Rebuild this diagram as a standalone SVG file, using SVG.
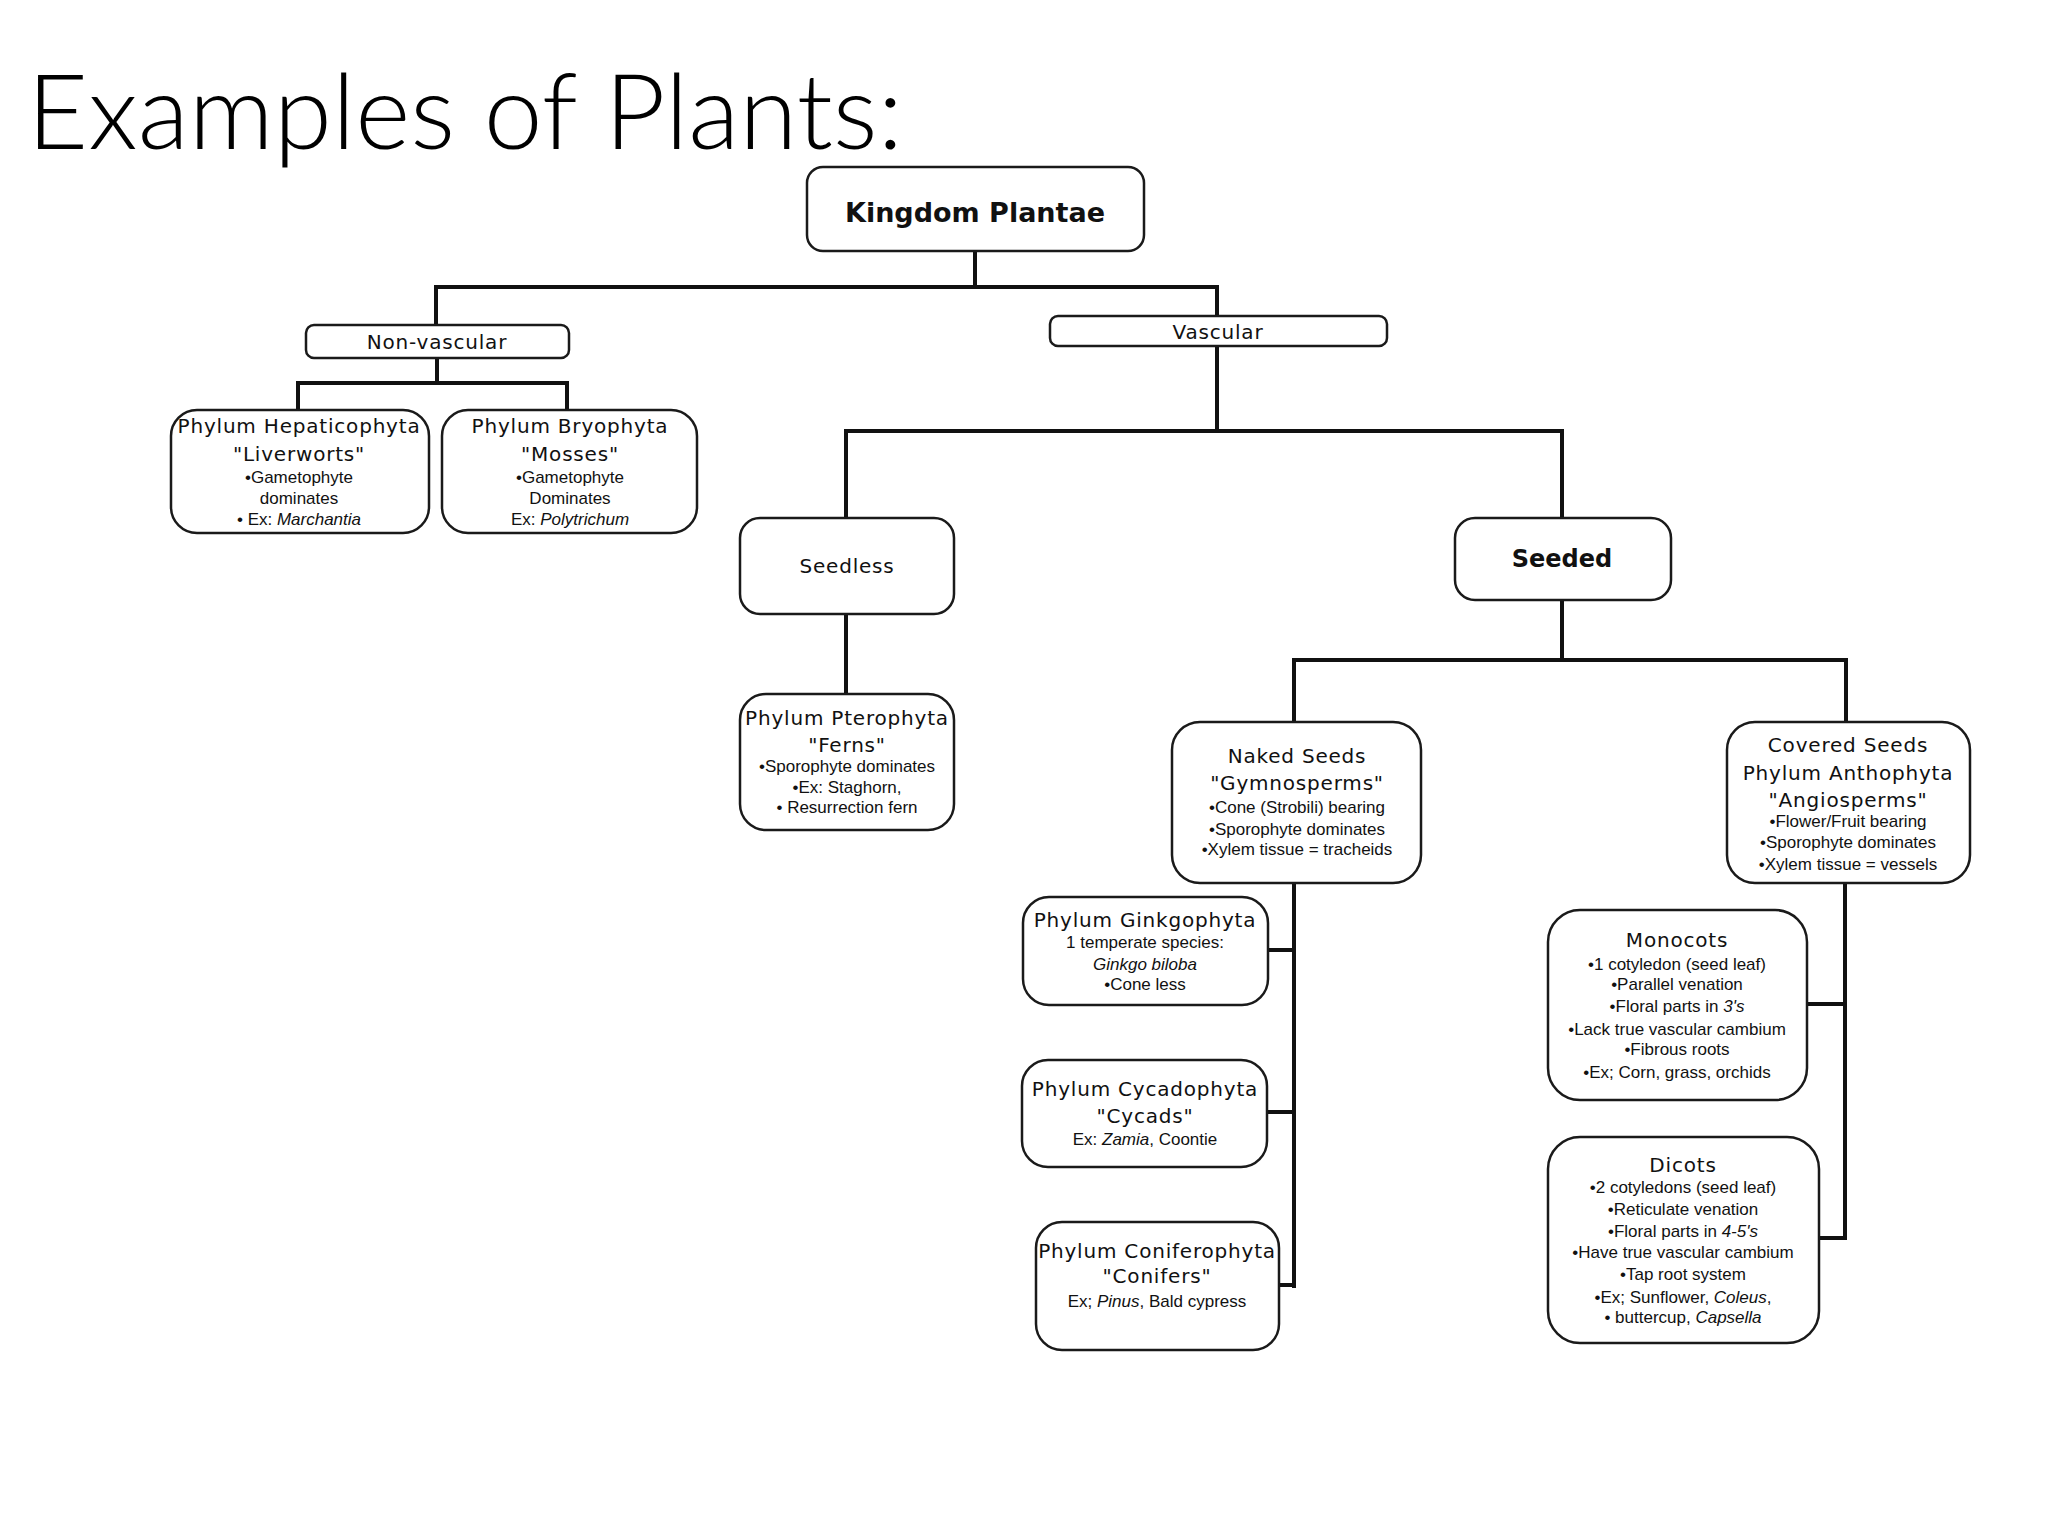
<svg xmlns="http://www.w3.org/2000/svg" width="2048" height="1536" viewBox="0 0 2048 1536">
<style>
.box{fill:#fff;stroke:#1a1a1a;stroke-width:2.5}
.con{fill:none;stroke:#111;stroke-width:4;stroke-linecap:square}
.h{font-family:"DejaVu Sans","Liberation Sans",sans-serif;font-size:20px;letter-spacing:0.8px;fill:#111;text-anchor:middle}
.s{font-family:"Liberation Sans",Arial,sans-serif;font-size:17px;fill:#111;text-anchor:middle}
.b{font-family:"DejaVu Sans","Liberation Sans",sans-serif;font-weight:bold;fill:#111;text-anchor:middle}
.i{font-style:italic}
.title{font-family:Lato,"Open Sans","Liberation Sans",sans-serif;font-weight:300;font-size:104px;fill:#000}
</style>
<rect width="2048" height="1536" fill="#fff"/>
<text class="title" x="27" y="149" textLength="876" lengthAdjust="spacingAndGlyphs">Examples of Plants:</text>

<g id="connectors">
<path class="con" d="M975 251V287M436 287H1217M436 287V325M1217 287V316"/>
<path class="con" d="M437 358V383M298 383H567M298 383V410M567 383V410"/>
<path class="con" d="M1217 346V431M846 431H1562M846 431V518M1562 431V518"/>
<path class="con" d="M846 614V694"/>
<path class="con" d="M1562 600V660M1294 660H1846M1294 660V722M1846 660V722"/>
<path class="con" d="M1294 883V1286M1268 950H1294M1267 1112H1294M1279 1285H1294"/>
<path class="con" d="M1845 883V1238M1807 1004H1845M1819 1238H1845"/>
</g>

<g id="kingdom">
<rect class="box" x="807" y="167" width="337" height="84" rx="16"/>
<text class="b" x="975" y="222" font-size="27">Kingdom Plantae</text>
</g>

<g id="nonvascular">
<rect class="box" x="306" y="325" width="263" height="33" rx="8"/>
<text class="h" x="437" y="349">Non-vascular</text>
</g>

<g id="vascular">
<rect class="box" x="1050" y="316" width="337" height="30" rx="8"/>
<text class="h" x="1218" y="339">Vascular</text>
</g>

<g id="liverworts">
<rect class="box" x="171" y="410" width="258" height="123" rx="26"/>
<text class="h" x="299" y="433">Phylum Hepaticophyta</text>
<text class="h" x="299" y="461">"Liverworts"</text>
<text class="s" x="299" y="483">•Gametophyte</text>
<text class="s" x="299" y="504">dominates</text>
<text class="s" x="299" y="525">• Ex: <tspan class="i">Marchantia</tspan></text>
</g>

<g id="mosses">
<rect class="box" x="442" y="410" width="255" height="123" rx="26"/>
<text class="h" x="570" y="433">Phylum Bryophyta</text>
<text class="h" x="570" y="461">"Mosses"</text>
<text class="s" x="570" y="483">•Gametophyte</text>
<text class="s" x="570" y="504">Dominates</text>
<text class="s" x="570" y="525">Ex: <tspan class="i">Polytrichum</tspan></text>
</g>

<g id="seedless">
<rect class="box" x="740" y="518" width="214" height="96" rx="20"/>
<text class="h" x="847" y="573">Seedless</text>
</g>

<g id="seeded">
<rect class="box" x="1455" y="518" width="216" height="82" rx="20"/>
<text class="b" x="1562" y="567" font-size="24">Seeded</text>
</g>

<g id="ferns">
<rect class="box" x="740" y="694" width="214" height="136" rx="26"/>
<text class="h" x="847" y="725">Phylum Pterophyta</text>
<text class="h" x="847" y="752">"Ferns"</text>
<text class="s" x="847" y="772">•Sporophyte dominates</text>
<text class="s" x="847" y="793">•Ex: Staghorn,</text>
<text class="s" x="847" y="813">• Resurrection fern</text>
</g>

<g id="naked">
<rect class="box" x="1172" y="722" width="249" height="161" rx="28"/>
<text class="h" x="1297" y="763">Naked Seeds</text>
<text class="h" x="1297" y="790">"Gymnosperms"</text>
<text class="s" x="1297" y="813">•Cone (Strobili) bearing</text>
<text class="s" x="1297" y="835">•Sporophyte dominates</text>
<text class="s" x="1297" y="855">•Xylem tissue = tracheids</text>
</g>

<g id="covered">
<rect class="box" x="1727" y="722" width="243" height="161" rx="28"/>
<text class="h" x="1848" y="752">Covered Seeds</text>
<text class="h" x="1848" y="780">Phylum Anthophyta</text>
<text class="h" x="1848" y="807">"Angiosperms"</text>
<text class="s" x="1848" y="827">•Flower/Fruit bearing</text>
<text class="s" x="1848" y="848">•Sporophyte dominates</text>
<text class="s" x="1848" y="870">•Xylem tissue = vessels</text>
</g>

<g id="ginkgo">
<rect class="box" x="1023" y="897" width="245" height="108" rx="26"/>
<text class="h" x="1145" y="927">Phylum Ginkgophyta</text>
<text class="s" x="1145" y="948">1 temperate species:</text>
<text class="s i" x="1145" y="970">Ginkgo biloba</text>
<text class="s" x="1145" y="990">•Cone less</text>
</g>

<g id="cycads">
<rect class="box" x="1022" y="1060" width="245" height="107" rx="26"/>
<text class="h" x="1145" y="1096">Phylum Cycadophyta</text>
<text class="h" x="1145" y="1123">"Cycads"</text>
<text class="s" x="1145" y="1145">Ex: <tspan class="i">Zamia</tspan>, Coontie</text>
</g>

<g id="conifers">
<rect class="box" x="1036" y="1222" width="243" height="128" rx="26"/>
<text class="h" x="1157" y="1258">Phylum Coniferophyta</text>
<text class="h" x="1157" y="1283">"Conifers"</text>
<text class="s" x="1157" y="1307">Ex; <tspan class="i">Pinus</tspan>, Bald cypress</text>
</g>

<g id="monocots">
<rect class="box" x="1548" y="910" width="259" height="190" rx="32"/>
<text class="h" x="1677" y="947">Monocots</text>
<text class="s" x="1677" y="970">•1 cotyledon (seed leaf)</text>
<text class="s" x="1677" y="990">•Parallel venation</text>
<text class="s" x="1677" y="1012">•Floral parts in <tspan class="i">3's</tspan></text>
<text class="s" x="1677" y="1035">•Lack true vascular cambium</text>
<text class="s" x="1677" y="1055">•Fibrous roots</text>
<text class="s" x="1677" y="1078">•Ex; Corn, grass, orchids</text>
</g>

<g id="dicots">
<rect class="box" x="1548" y="1137" width="271" height="206" rx="32"/>
<text class="h" x="1683" y="1172">Dicots</text>
<text class="s" x="1683" y="1193">•2 cotyledons (seed leaf)</text>
<text class="s" x="1683" y="1215">•Reticulate venation</text>
<text class="s" x="1683" y="1237">•Floral parts in <tspan class="i">4-5's</tspan></text>
<text class="s" x="1683" y="1258">•Have true vascular cambium</text>
<text class="s" x="1683" y="1280">•Tap root system</text>
<text class="s" x="1683" y="1303">•Ex; Sunflower, <tspan class="i">Coleus</tspan>,</text>
<text class="s" x="1683" y="1323">• buttercup, <tspan class="i">Capsella</tspan></text>
</g>
</svg>
